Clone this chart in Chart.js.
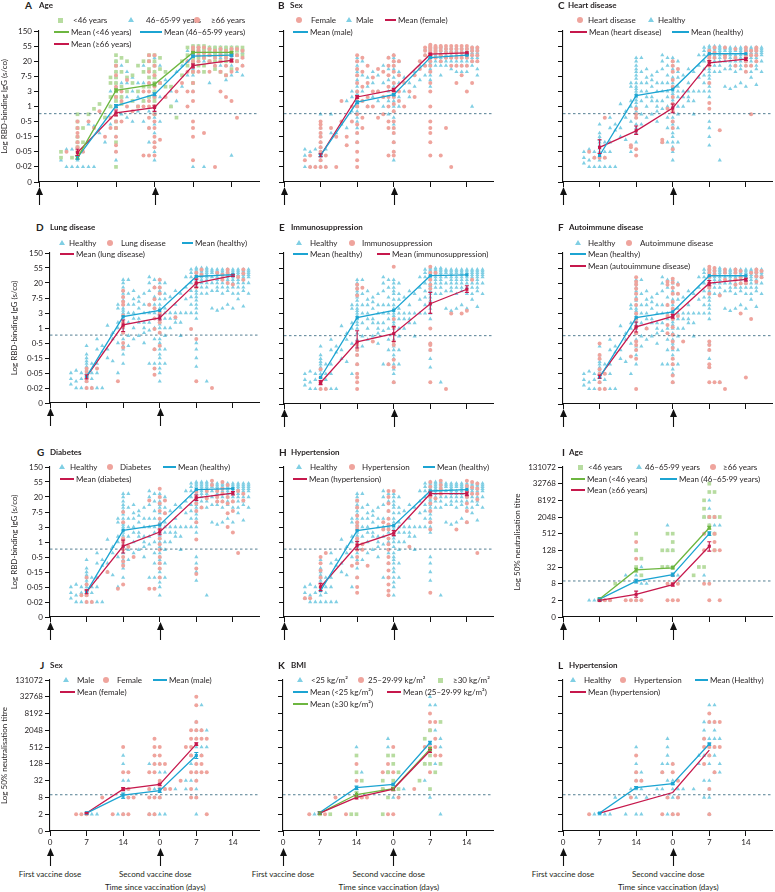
<!DOCTYPE html>
<html>
<head>
<meta charset="utf-8">
<title>Antibody response by subgroup</title>
<script src="https://cdn.jsdelivr.net/npm/chart.js@4.4.1/dist/chart.umd.min.js"></script>
<style>
  body { margin: 0; background: #fff; }
  #fig { position: relative; width: 775px; height: 892px; overflow: hidden;
         font-family: Lato, "Open Sans", sans-serif; color: #231f20; }
  .cv { position: absolute; }
  .txt { position: absolute; font-size: 8px; line-height: 10px; white-space: nowrap; }
  .letter { font-weight: 700; font-size: 10px; line-height: 12px; }
  .ttl { font-weight: 700; }
  .sym { position: absolute; }
</style>
</head>
<body>
<div id="fig"></div>
<script>
// y ladders (equally spaced ticks on the printed axis)
const iggTicks = [0, 0.02, 0.05, 0.15, 0.5, 1, 3, 7.5, 20, 55, 150];
const iggLabels = ['0', '0·02', '0·05', '0·15', '0·5', '1', '3', '7·5', '20', '55', '150'];
const neutTicks = [0, 2, 8, 32, 128, 512, 2048, 8192, 32768, 131072];
const neutLabels = ['0', '2', '8', '32', '128', '512', '2048', '8192', '32768', '131072'];
const dayTicks = [0, 7, 14, 21, 28, 35];
const dayLabels = ['0', '7', '14', '0', '7', '14'];
const doseDays = [0, 21];
const meanDays = [7, 14, 21, 28, 35];
const meanDaysNeut = [7, 14, 21, 28];
const iggCutoff = 0.72;
const neutCutoff = 10;

// scatter columns: [day, values...]
const ageYoung = [[4,0.05,0.035],[6,0.035],[7,0.7,0.5,0.3,0.15,0.1,0.07,0.05],[8,0.3,0.1],[9,0.7],[10,0.9],[11,1.2],[12,0.6],[13,7,5,2,1],[14,30,20,15,10,7,5,3,2,1.5,1,0.7,0.5,0.3,0.1,0.02],[15,25,10,4,2,1.2],[16,20,7,3],[17,8,5,1.5],[18,15,3,1],[19,20,10,4,1.5],[20,30,20,12,7,4,2],[21,30,20,15,10,7,5,3,2,1.5,1,0.7],[22,25,12,5],[23,10,4],[24,4,1],[25,0.6],[26,20,8],[27,50,30,15],[28,55,50,45,40,35,30,25,20,15,10,5],[29,55,45,35,25,15],[30,55,45,35,25,15,10],[31,50,40,30,20],[32,50,40,30,20,12],[33,50,40,30,20,10],[34,50,40,30,20,8],[35,50,40,30,20,12],[36,50,40,30,20],[37,50,40,30]];
const ageMid = [[4,0.03],[5,0.06,0.02],[6,0.06,0.02],[7,0.3,0.15,0.1,0.07,0.05,0.04,0.03,0.02],[8,0.05,0.02],[9,0.4,0.02],[10,0.35,0.02],[11,0.2],[12,0.6,0.1],[13,3,1,0.4],[14,20,15,10,7,5,4,3,2,1.5,1,0.7,0.5,0.3,0.15,0.05,0.03],[15,15,5,2,0.7],[16,10,5,2,0.6],[17,7,3,1.5,0.5],[18,5,2,0.8],[19,15,5,1.5,0.5],[20,20,10,5,2,0.8,0.3,0.1],[21,25,20,15,10,7,5,3,2,1.5,1,0.8,0.6,0.4,0.2,0.1,0.05,0.03],[22,15,5,2,0.5],[23,6,2],[24,3,1],[25,10,1.5],[26,15,4],[27,40,20,8],[28,55,45,40,35,30,25,20,15,12,8,5,3,0.02],[29,55,45,40,30,20,10],[30,55,45,40,30,20,0.02],[31,50,40,30,20,5],[32,50,45,35,25,15],[33,50,45,35,25,15],[34,50,45,35,25,15,6],[35,50,45,35,25,15,8,0.04],[36,50,40,30,20,10],[37,45,35,25,15,8]];
const ageOld = [[5,0.05],[7,0.5,0.3,0.2,0.15,0.1,0.07,0.05,0.04],[8,0.05],[9,0.5],[10,0.3],[11,0.8],[12,0.15],[13,0.6,0.3],[14,15,8,4,2,1,0.7,0.5,0.3,0.15,0.08,0.05],[15,3,1.5,0.5],[16,6,1],[17,0.8],[18,1],[19,3,1,0.04],[20,30,20,10,5,3,1.5,1,0.6,0.3,0.04],[21,30,15,8,4,2,1,0.7,0.5,0.3,0.15,0.1,0.07,0.04],[22,5,0.12],[23,2],[25,3],[26,5],[27,20,10,3,1],[28,50,40,30,20,15,10,5,3,1.5,0.5,0.3,0.15,0.03],[29,50,40,30,20,10],[30,50,35,25,0.2],[31,45,30,20,10],[32,40,25,15,0.02],[33,45,30,20,10,3],[34,40,25,15,8,2],[35,45,30,20,10,1.5],[36,45,30,20,12,0.6],[37,40,25,15]];
const sexFemale = [[4,0.03],[5,0.04,0.02],[6,0.02],[7,0.5,0.4,0.3,0.2,0.15,0.1,0.07,0.05,0.03,0.02],[8,0.04,0.02],[9,0.3],[10,0.15,0.02],[11,1.5,0.5],[12,0.15,0.08],[13,1,0.5],[14,30,20,12,8,5,3,2,1.5,1,0.7,0.4,0.2,0.1,0.05,0.03,0.02],[15,25,10,4,1.5,0.6,0.3],[16,15,5,2,1],[17,7,3,1],[18,12,3,0.6],[19,10,2,0.7],[20,25,15,8,4,2,1,0.5,0.3,0.04],[21,30,20,15,10,5,3,2,1.2,0.8,0.5,0.3,0.2,0.1,0.05,0.04],[22,20,8,3,1.5],[23,5,1],[24,3],[25,8,2],[26,20,12],[27,50,40,30,15],[28,60,55,50,45,40,35,30,25,20,15,10,5,3,1,0.5,0.3,0.2,0.1,0.04],[29,55,50,45,40,35,25],[30,55,50,40,30,20,0.04],[31,55,45,35,25,0.3],[32,55,45,35,25,15,0.02],[33,55,45,35,25,15,5],[34,55,45,35,25,15,8],[35,55,45,35,25,15,3],[36,50,40,30,20,5],[37,50,40,30,20]];
const sexMale = [[4,0.06,0.04,0.02],[5,0.05,0.02],[6,0.06,0.02],[7,0.7,0.3,0.2,0.15,0.1,0.07,0.05,0.04,0.03,0.02],[8,0.06,0.02],[9,0.7,0.2],[10,0.2],[11,0.4],[12,1.5,0.3],[13,3,2,0.8],[14,25,20,15,12,10,8,6,5,4,3,2.5,2,1.5,1.2,1,0.8,0.6,0.5,0.3,0.2,0.1],[15,20,8,3,1.5],[16,7,4,2,1],[17,10,5,2],[18,8,3,1.5],[19,15,5,2,1],[20,25,12,6,3,1.5,0.7],[21,30,25,20,15,12,10,7,5,4,3,2.5,2,1.5,1.2,1,0.8,0.6,0.4,0.3,0.2,0.1,0.05,0.03],[22,20,10,5,2,1],[23,7,3],[24,5,2],[25,10,4],[26,15,6],[27,45,30,15,8],[28,55,50,45,40,35,30,25,20,17,15,12,10,8,6,4],[29,55,50,45,40,35,30,25,20,15],[30,55,50,45,40,35,30,25,20,15,8],[31,50,45,40,35,30,25,20,15],[32,50,45,40,35,30,25,20,12],[33,50,45,40,35,30,25,20,15,10],[34,50,45,40,35,30,25,20,15,10],[35,50,45,40,35,30,25,20,15,10],[36,50,45,40,35,30,25,20,15,1],[37,50,45,40,35,30,25,20,12,8]];
const healthyIgG = [[4,0.05,0.035,0.025],[5,0.06,0.03,0.02],[6,0.05,0.035,0.02],[7,0.4,0.2,0.15,0.12,0.1,0.08,0.065,0.05,0.04,0.03,0.02],[8,0.1,0.05,0.035,0.02],[9,0.6,0.3,0.1,0.05,0.02],[10,0.4,0.25,0.02],[11,1.2,0.3,0.15],[12,0.8,0.6,0.12],[13,5,4,1.5,1,0.5,0.05],[14,25,20,15,12,10,8,6.5,5,4,3.5,3,2.5,2,1.6,1.3,1,0.8,0.6,0.4,0.3,0.2,0.1],[15,25,10,5,3,1.5,0.7,0.4],[16,12,7,5,3,2,1,0.6],[17,8,6,4,2,1.5,0.7],[18,10,5,3,1.5,1,0.8,0.5],[19,30,20,12,5,3,1.5,0.9,0.1],[20,25,15,8,5,3,2,1,0.6,0.3,0.1],[21,25,20,15,12,10,7,5,4,3,2.5,2,1.6,1.3,1,0.8,0.6,0.5,0.4,0.3,0.2,0.15,0.1,0.07,0.05,0.03],[22,20,10,7,4,3,2,1,0.7,0.3,0.1],[23,8,3,2,1],[24,12,5,3,2,1.5],[25,10,3,1.5,0.7],[26,30,15,7,3],[27,50,40,30,20,12,8,5,3],[28,55,50,45,40,35,30,25,20,17,15,12,10,8,6.5,5,4,3,2,0.5,0.3,0.15,0.08],[29,55,50,45,40,35,30,25,20,15,10],[30,55,50,45,40,35,30,25,20,15,10,0.03],[31,50,45,40,30,20,12,4],[32,50,45,40,35,30,25,20,15,12,3.5],[33,50,45,40,30,25,20,15,10,4],[34,50,45,40,35,30,25,20,15,12,5],[35,50,45,40,35,30,25,20,15,10,4],[36,50,45,40,35,30,25,20,15,10,7],[37,50,45,40,35,30,25,20,15,12,4.5],[38,50,45,40,35,30,20,10]];
const heartIgG = [[5,0.05],[6,0.035],[7,0.035],[8,0.6,0.035],[13,0.08,0.07],[14,0.9,0.7,0.6,0.06,0.04],[19,0.12,0.1],[20,0.9],[21,20,15,10,6,4,2,1.2,0.8,0.5,0.3,0.06],[22,12],[28,40,30,25,20,15,5,1.3,0.9],[29,50,35,25],[30,0.25],[31,50,30,25],[33,45,25,15],[35,50,40,30,25,20,15,10],[36,40,30,15,0.7],[37,50,45,40,30,20]];
const lungIgG = [[7,0.07,0.055,0.04,0.03,0.02],[8,0.02],[9,0.07],[13,0.03],[14,12,8,6,5,2.5,1.5,1.1,0.8,0.5,0.35],[19,5],[20,15,7,4,2,0.95,0.3,0.07,0.045],[21,25,15,10,3,1.5,0.8,0.4],[24,2.2],[27,0.95],[28,40,30,20,15,0.6,0.03],[29,50,35],[31,0.02],[32,40],[33,35,25],[34,50,40,20],[35,35,18],[36,30],[37,50,38,25]];
const immunoIgG = [[7,0.07,0.04,0.03,0.02],[8,0.02],[14,18,14,9,0.45,0.3,0.2,0.1,0.05,0.04,0.03,0.02],[15,15],[17,0.55],[20,0.1],[21,60,2,1.1,0.55,0.45,0.14,0.08,0.03],[28,60,40,25,18,14,1,0.5,0.45,0.3,0.03],[29,40],[31,0.02],[32,3],[34,3],[35,3.5],[36,25]];
const autoIgG = [[7,0.5,0.2,0.15,0.07,0.05,0.03,0.02],[8,0.05,0.02],[13,0.18],[14,30,22,18,14,10,7,5,3,2,1.1,0.8,0.55,0.45,0.3,0.15,0.02],[16,1],[20,22,18,5,2.5,1.3,0.8],[21,27,21,15,10,6,4,2,1.1,0.75,0.55,0.35,0.15,0.1,0.045,0.03],[22,18,10,2.5],[23,0.55],[28,60,50,40,30,20,15,10,0.55,0.45,0.3,0.1,0.08,0.03],[29,55,45,35,0.03],[30,9,0.03],[31,50,40,25,0.02],[33,50,40,25,18],[34,45,30,20,3],[35,20,0.04],[36,40,2],[37,50,42,32,22],[38,45,30]];
const diabIgG = [[6,0.03],[7,0.1,0.06,0.04,0.03,0.02],[8,0.02],[11,0.15],[13,0.045],[14,7.5,4,1.3,1,0.7,0.5,0.35,0.25,0.06],[15,0.8],[16,0.5],[19,16,0.045],[20,0.045],[21,35,20,13,8,5,3.5,2.5,1.3,0.9,0.7,0.5,0.3,0.2,0.1],[22,16,7],[28,28,20,13,8,4,1.2,0.2,0.13],[29,10],[30,30,18],[31,60,45],[32,30,20,15],[33,55,35,25,15],[34,45,20,13,7,3],[35,15,8,2],[36,30,0.6],[37,25,16]];
const hyperIgG = [[4,0.025],[5,0.025],[7,0.5,0.3,0.17,0.1,0.06,0.05],[8,0.6],[13,0.25],[14,16,10,6,4,3.2,2.5,1.3,0.9,0.7,0.5,0.3,0.1,0.05,0.035],[15,0.9,0.7],[16,0.25],[19,4,2.5],[20,30,20,13,8,5,3.5,2.5,1.3,0.9,0.7,0.5,0.3,0.17,0.1,0.06,0.04,0.03],[21,30],[24,0.8],[28,55,40,30,20,13,8,4,2.5,0.035],[29,18],[30,60,45,35,25],[33,2.5],[35,60,42,30,20,13,8,4],[36,55,38,25],[37,50,35,25,17,0.6]];

const neutYoung = [[7,2],[10,8],[14,512,128,32],[15,64,16],[19,128,32],[20,512,128,32],[21,512,256,128,32],[25,16],[26,32],[27,8192,4096,2048,32],[28,32768,16384,2048,1024,512],[29,16384,2048,512,128],[30,2048]];
const neutMid = [[5,2],[6,2],[7,2],[8,2],[9,2],[12,16],[14,128,16,2],[15,32,8],[16,8],[20,1024,128,32],[21,128,32,16],[22,16],[27,2048,512,16],[28,8192,4096,2048,1024],[29,2048,1024,512],[30,1024]];
const neutOld = [[7,2],[8,2],[9,2],[12,2],[13,2],[14,256,64,2],[15,2],[20,8,2],[21,16,8,2],[22,8,2],[27,512,128,8],[28,2048,8,2],[29,2048,512,256,128],[30,128,2]];
const neutMale = [[7,2],[8,2],[9,2],[13,2],[14,256,128,32,8,2],[15,16,32],[19,16,2,128],[20,128,16,2],[21,128,64,8,2],[22,64,16,2],[24,16],[26,32,16],[27,256,128,32],[28,4096,2048,1024,512,128,64,32,16,8,2],[29,16384,2048,512,256],[30,2048,512]];
const neutFemale = [[5,2],[6,2],[7,2],[10,8],[12,2],[14,512,64,16,2],[15,64,16,8,2],[16,8],[19,64,16,8,2],[20,1024,512,256,128,64,8,2],[21,512,256,128,32,16,8],[22,128,16],[23,16],[25,32],[26,512],[27,2048,1024,512,256,64,16,8],[28,32768,16384,4096,2048,1024,128,64,32,8],[29,2048,1024,256,128,64],[30,1024,64,2]];
const bmiLow = [[6,2],[7,2],[14,512,16],[15,64,8],[20,1024,512],[21,8],[23,16],[27,128,32],[28,32768,16384,8],[29,16384,2048,128],[30,1024,512,2]];
const bmiMid = [[5,2],[7,2],[8,2],[10,8],[12,2],[14,128,32,8],[15,8],[16,8],[19,64,16],[20,128,64,2],[21,512,64,2],[22,8],[25,16],[27,512],[28,8192,4096,2048,512,64],[29,4096,1024,512,256],[30,256]];
const bmiHigh = [[7,2],[9,2],[13,2],[14,256,64,2],[15,32],[19,32,16,2],[20,256,64,8],[21,256,128,32,16],[22,64,16],[26,32],[27,1024,128],[28,2048,256,128,16],[29,64],[30,4096,128]];
const neutHealthy = [[6,2],[7,2],[8,2],[9,2],[10,8],[12,2],[13,16],[14,512,128,64,32,16,8,2],[15,64,32,16,2],[16,8],[18,16],[19,128,64,16],[20,1024,512,256,128,32,8,2],[21,128,32,16,8,2],[22,32,16,8],[23,16],[25,16],[26,256,128],[27,4096,2048,1024,256,32,8],[28,16384,4096,1024,512,256,128,32,16,8,2],[29,16384,4096,2048,1024,512,256,64],[30,1024,128,64]];
const neutHyper = [[5,2],[13,8],[14,256,64,32],[15,32],[19,64,2],[20,8],[21,128,64,2],[22,32,8,2],[27,1024,512,128],[28,8192,4096,512,256,16,2],[29,4096,512,64],[30,4096,512]];

// group means and 95% CI bars
const meanAgeYoung = [0.035, 3.2, 4.6, 36, 36];
const errAgeYoung = [[0.032,0.039],[2.9,3.5],[4.2,5],[34,38],[34,38]];
const meanAgeMid = [0.035, 1.05, 2.4, 28, 30];
const errAgeMid = [[0.032,0.039],[0.95,1.15],[2.2,2.7],[26,30],[28,32]];
const meanAgeOld = [0.048, 0.75, 0.95, 15, 21];
const errAgeOld = [[0.04,0.06],[0.65,0.85],[0.8,1.1],[13,17],[19,23]];
const meanFemale = [0.04, 2.0, 3.3, 32, 35];
const errFemale = [[0.037,0.044],[1.8,2.2],[3,3.6],[30,34],[33,37]];
const meanMale = [0.04, 1.37, 2.35, 25.5, 30];
const errMale = [[0.037,0.044],[1.25,1.5],[2.2,2.55],[24,27],[29,31]];
const meanHeart = [0.069, 0.24, 0.93, 18, 23];
const errHeart = [[0.045,0.12],[0.18,0.35],[0.75,1.2],[15,21],[21,25]];
const meanHealthyC = [0.04, 2.2, 3.4, 33, 33];
const meanHealthyD = [0.04, 2.3, 3.5, 31, 35];
const meanLung = [0.04, 1.25, 2.1, 20, 33];
const errLung = [[0.035,0.045],[0.85,1.8],[1.8,2.6],[15,26],[31,35]];
const meanHealthyE = [0.04, 2.2, 3.6, 33, 35];
const meanImmuno = [0.029, 0.54, 0.79, 5.4, 13.5];
const errImmuno = [[0.026,0.033],[0.35,0.9],[0.55,1.15],[3,11],[11,17]];
const meanHealthyF = [0.04, 2.2, 3.3, 33, 33];
const meanAuto = [0.042, 1.13, 2.4, 20, 26];
const errAuto = [[0.038,0.046],[0.85,1.6],[2.1,2.8],[17,24],[23,28]];
const meanHealthyG = [0.037, 2.35, 3.4, 33, 35];
const meanDiab = [0.037, 0.83, 2.08, 19, 26];
const errDiab = [[0.033,0.042],[0.6,1.15],[1.7,2.6],[16,23],[23,29]];
const meanHealthyH = [0.04, 2.3, 3.3, 30, 33];
const meanHyper = [0.05, 0.86, 1.9, 25, 25];
const errHyper = [[0.04,0.065],[0.7,1.05],[1.6,2.3],[22,28],[22,28]];
const meanNeutYoung = [2.25, 25, 30, 840];
const errNeutYoung = [[2.1,2.4],[21,29],[27,33],[750,950]];
const meanNeutMid = [2.2, 9.9, 17, 512];
const errNeutMid = [[2,2.4],[8.5,11.5],[15,19.5],[440,600]];
const meanNeutOld = [2, 3.3, 7.4, 180];
const errNeutOld = [[1.9,2.1],[2.6,4.3],[6.5,8.5],[120,260]];
const meanNeutFemale = [2.2, 15.9, 23.6, 658];
const errNeutFemale = [[2.1,2.3],[14,18],[21,26],[590,730]];
const meanNeutMale = [2.2, 9.7, 14, 256];
const errNeutMale = [[2,2.4],[7.5,11.5],[12,17],[200,330]];
const meanBmiLow = [2.3, 17.9, 23.6, 735];
const errBmiLow = [[2.1,2.5],[15.5,20.5],[21,26],[650,830]];
const meanBmiMid = [2.2, 8, 16, 379];
const errBmiMid = [[2,2.4],[7,9],[14,18],[330,430]];
const meanBmiHigh = [2.2, 10.2, 16.5, 432];
const errBmiHigh = [[2,2.4],[8.5,12.5],[14.5,18.5],[380,490]];
const meanNeutHealthy = [2.2, 18, 25, 660];
const errNeutHealthy = [[2.1,2.3],[16.5,19.5],[23,27],[600,720]];
const meanNeutHyper = [2.2, null, 12, 400];

const pale = { g: '#b7dca0', b: '#80cfe4', r: '#efa49d' };
const dark = { g: '#6db640', b: '#1ca4d2', r: '#c6184c' };
const iggTitle = 'Log RBD-binding IgG (s/co)';
const neutTitle = 'Log 50% neutralisation titre';

const panels = [
  { key: 'A', name: 'Age', row: 0, left: 39, right: 262, top: 31, bottom: 182, kind: 'igg', yw: 39, yTitle: iggTitle, titlePad: 0,
    head: [25, 39, 5],
    groups: [[ageMid, 'tri', 'b'], [ageYoung, 'sq', 'g'], [ageOld, 'dot', 'r']],
    means: [[meanAgeYoung, errAgeYoung, 'g'], [meanAgeMid, errAgeMid, 'b'], [meanAgeOld, errAgeOld, 'r']],
    legend: [[20, [[60,'sq','g','<46 years',73],[131,'tri','b','46–65·99 years',146],[197,'dot','r','≥66 years',211]]],
             [32, [[54,'line','g','Mean (<46 years)',71],[140,'line','b','Mean (46–65·99 years)',164]]],
             [44, [[54,'line','r','Mean (≥66 years)',71]]]] },
  { key: 'B', name: 'Sex', row: 0, left: 284, right: 496, top: 31, bottom: 182, kind: 'igg', yw: 20,
    head: [278, 290, 5],
    groups: [[sexMale, 'tri', 'b'], [sexFemale, 'dot', 'r']],
    means: [[meanMale, errMale, 'b'], [meanFemale, errFemale, 'r']],
    legend: [[20, [[299,'dot','r','Female',311],[349,'tri','b','Male',356],[385,'line','r','Mean (female)',398]]],
             [32, [[293,'line','b','Mean (male)',310]]]] },
  { key: 'C', name: 'Heart disease', row: 0, left: 563, right: 775, top: 31, bottom: 182, kind: 'igg', yw: 50,
    head: [558, 568, 5],
    groups: [[healthyIgG, 'tri', 'b'], [heartIgG, 'dot', 'r']],
    means: [[meanHealthyC, null, 'b'], [meanHeart, errHeart, 'r']],
    legend: [[20, [[580,'dot','r','Heart disease',588],[651,'tri','b','Healthy',658]]],
             [32, [[570,'line','r','Mean (heart disease)',589],[672,'line','b','Mean (healthy)',691]]]] },
  { key: 'D', name: 'Lung disease', row: 1, left: 50, right: 262, top: 253, bottom: 403, kind: 'igg', yw: 50, yTitle: iggTitle, titlePad: 10,
    head: [36, 50, 227],
    groups: [[healthyIgG, 'tri', 'b'], [lungIgG, 'dot', 'r']],
    means: [[meanHealthyD, null, 'b'], [meanLung, errLung, 'r']],
    legend: [[243, [[62,'tri','b','Healthy',69],[110,'dot','r','Lung disease',121],[182,'line','b','Mean (healthy)',195]]],
             [254, [[60,'line','r','Mean (lung disease)',76]]]] },
  { key: 'E', name: 'Immunosuppression', row: 1, left: 284, right: 496, top: 253, bottom: 404, kind: 'igg', yw: 20,
    head: [279, 291, 227],
    groups: [[healthyIgG, 'tri', 'b'], [immunoIgG, 'dot', 'r']],
    means: [[meanHealthyE, null, 'b'], [meanImmuno, errImmuno, 'r']],
    legend: [[243, [[299,'tri','b','Healthy',310],[352,'dot','r','Immunosuppression',362]]],
             [254, [[293,'line','b','Mean (healthy)',310],[377,'line','r','Mean (immunosuppression)',392]]]] },
  { key: 'F', name: 'Autoimmune disease', row: 1, left: 563, right: 775, top: 253, bottom: 404, kind: 'igg', yw: 50,
    head: [558, 569, 227],
    groups: [[healthyIgG, 'tri', 'b'], [autoIgG, 'dot', 'r']],
    means: [[meanHealthyF, null, 'b'], [meanAuto, errAuto, 'r']],
    legend: [[243, [[578,'tri','b','Healthy',588],[629,'dot','r','Autoimmune disease',640]]],
             [254, [[570,'line','b','Mean (healthy)',588]]],
             [266, [[570,'line','r','Mean (autouimmune disease)',588]]]] },
  { key: 'G', name: 'Diabetes', row: 2, left: 50, right: 262, top: 467, bottom: 617, kind: 'igg', yw: 50, yTitle: iggTitle, titlePad: 10,
    head: [37, 50, 452],
    groups: [[healthyIgG, 'tri', 'b'], [diabIgG, 'dot', 'r']],
    means: [[meanHealthyG, null, 'b'], [meanDiab, errDiab, 'r']],
    legend: [[467, [[62,'tri','b','Healthy',70],[110,'dot','r','Diabetes',120],[163,'line','b','Mean (healthy)',178]]],
             [479, [[60,'line','r','Mean (diabetes)',76]]]] },
  { key: 'H', name: 'Hypertension', row: 2, left: 284, right: 496, top: 467, bottom: 617, kind: 'igg', yw: 20,
    head: [279, 291, 452],
    groups: [[healthyIgG, 'tri', 'b'], [hyperIgG, 'dot', 'r']],
    means: [[meanHealthyH, null, 'b'], [meanHyper, errHyper, 'r']],
    legend: [[467, [[299,'tri','b','Healthy',310],[352,'dot','r','Hypertension',362],[423,'line','b','Mean (healthy)',437]]],
             [479, [[293,'line','r','Mean (hypertension)',309]]]] },
  { key: 'I', name: 'Age', row: 2, left: 563, right: 775, top: 467, bottom: 617, kind: 'neut', yw: 50, yTitle: neutTitle, titlePad: 0,
    head: [562, 569, 452],
    groups: [[neutMid, 'tri', 'b'], [neutYoung, 'sq', 'g'], [neutOld, 'dot', 'r']],
    means: [[meanNeutYoung, errNeutYoung, 'g'], [meanNeutMid, errNeutMid, 'b'], [meanNeutOld, errNeutOld, 'r']],
    legend: [[467, [[580,'sq','g','<46 years',588],[639,'tri','b','46–65·99 years',645],[713,'dot','r','≥66 years',723]]],
             [479, [[571,'line','g','Mean (<46 years)',587],[660,'line','b','Mean (46–65·99 years)',679]]],
             [490, [[571,'line','r','Mean (≥66 years)',587]]]] },
  { key: 'J', name: 'Sex', row: 3, left: 50, right: 262, top: 680, bottom: 831, kind: 'neut', yw: 50, yTitle: neutTitle, titlePad: 0,
    head: [40, 50, 665],
    groups: [[neutMale, 'tri', 'b'], [neutFemale, 'dot', 'r']],
    means: [[meanNeutMale, errNeutMale, 'b'], [meanNeutFemale, errNeutFemale, 'r']],
    legend: [[680, [[66,'tri','b','Male',77],[106,'dot','r','Female',117],[153,'line','b','Mean (male)',169]]],
             [692, [[60,'line','r','Mean (female)',77]]]] },
  { key: 'K', name: 'BMI', row: 3, left: 283, right: 496, top: 680, bottom: 831, kind: 'neut', yw: 20,
    head: [278, 291, 665],
    groups: [[bmiLow, 'tri', 'b'], [bmiMid, 'dot', 'r'], [bmiHigh, 'sq', 'g']],
    means: [[meanBmiLow, errBmiLow, 'b'], [meanBmiMid, errBmiMid, 'r'], [meanBmiHigh, errBmiHigh, 'g']],
    legend: [[680, [[300,'tri','b','<25 kg/m²',311],[361,'dot','r','25–29·99 kg/m²',368],[440,'sq','g','≥30 kg/m²',453]]],
             [692, [[293,'line','b','Mean (<25 kg/m²)',310],[387,'line','r','Mean (25–29·99 kg/m²)',403]]],
             [704, [[293,'line','g','Mean (≥30 kg/m²)',310]]]] },
  { key: 'L', name: 'Hypertension', row: 3, left: 563, right: 775, top: 680, bottom: 831, kind: 'neut', yw: 50,
    head: [558, 569, 665],
    groups: [[neutHealthy, 'tri', 'b'], [neutHyper, 'dot', 'r']],
    means: [[meanNeutHealthy, errNeutHealthy, 'b'], [meanNeutHyper, null, 'r', true]],
    legend: [[680, [[573,'tri','b','Healthy',584],[623,'dot','r','Hypertension',634],[695,'line','b','Mean (Healthy)',710]]],
             [692, [[570,'line','r','Mean (hypertension)',588]]]] },
];

const fig = document.getElementById('fig');

function toPos(v, lad) {
  if (v == null) return null;
  if (v <= 0) return 0;
  for (let i = 0; i < lad.length - 1; i++) {
    const a = lad[i], b = lad[i + 1];
    if (v <= b || i === lad.length - 2) {
      if (a === 0) return i + v / b;
      return i + Math.log(v / a) / Math.log(b / a);
    }
  }
}

function addText(x, y, text, cls) {
  const d = document.createElement('div');
  d.className = 'txt' + (cls ? ' ' + cls : '');
  d.textContent = text;
  d.style.left = x + 'px';
  d.style.top = (y - (cls && cls.includes('letter') ? 6 : 5)) + 'px';
  fig.appendChild(d);
  return d;
}

function addSym(x, y, kind, c, endX) {
  const s = document.createElement('div');
  s.className = 'sym';
  if (kind === 'line') {
    Object.assign(s.style, { left: x + 'px', top: (y - 0.75) + 'px', width: (endX - x) + 'px', height: '1.5px', background: dark[c] });
  } else if (kind === 'sq') {
    Object.assign(s.style, { left: (x - 2.5) + 'px', top: (y - 2.5) + 'px', width: '5px', height: '5px', background: pale[c] });
  } else if (kind === 'dot') {
    Object.assign(s.style, { left: (x - 3) + 'px', top: (y - 3) + 'px', width: '6px', height: '6px', borderRadius: '50%', background: pale[c] });
  } else {
    Object.assign(s.style, { left: (x - 3) + 'px', top: (y - 3) + 'px', width: 0, height: 0,
      borderLeft: '3px solid transparent', borderRight: '3px solid transparent', borderBottom: '5.5px solid ' + pale[c] });
  }
  fig.appendChild(s);
}

const errorBars = {
  id: 'errorBars',
  afterDatasetsDraw(chart) {
    const { ctx } = chart;
    const xs = chart.scales.x, ys = chart.scales.y;
    chart.data.datasets.forEach((ds) => {
      if (!ds.errors) return;
      ctx.save();
      ctx.strokeStyle = ds.borderColor;
      ctx.lineWidth = 1.1;
      ds.errors.forEach((e, i) => {
        if (!e) return;
        const x = xs.getPixelForValue(ds.data[i].x);
        const y1 = ys.getPixelForValue(toPos(e[0], ds.ladder));
        const y2 = ys.getPixelForValue(toPos(e[1], ds.ladder));
        ctx.beginPath();
        ctx.moveTo(x, y1); ctx.lineTo(x, y2);
        ctx.moveTo(x - 2, y1); ctx.lineTo(x + 2, y1);
        ctx.moveTo(x - 2, y2); ctx.lineTo(x + 2, y2);
        ctx.stroke();
      });
      ctx.restore();
    });
  }
};

const doseArrows = {
  id: 'doseArrows',
  afterDraw(chart, args, opts) {
    const { ctx } = chart;
    const xs = chart.scales.x;
    const y0 = chart.chartArea.bottom + opts.gap;
    ctx.save();
    ctx.fillStyle = '#111';
    ctx.strokeStyle = '#111';
    ctx.lineWidth = 1.1;
    doseDays.forEach((d) => {
      const x = Math.round(xs.getPixelForValue(d)) + 0.5;
      ctx.beginPath();
      ctx.moveTo(x, y0); ctx.lineTo(x - 3.5, y0 + 8); ctx.lineTo(x + 3.5, y0 + 8);
      ctx.closePath(); ctx.fill();
      ctx.beginPath();
      ctx.moveTo(x, y0 + 7); ctx.lineTo(x, y0 + 18);
      ctx.stroke();
    });
    ctx.restore();
  }
};

Chart.defaults.font.family = 'Lato, "Open Sans", sans-serif';
Chart.defaults.font.size = 8;
Chart.defaults.color = '#231f20';

const markerSize = { tri: 2.4, sq: 2.6, dot: 2.0 };
const markerStyle = { tri: 'triangle', sq: 'rect', dot: 'circle' };

function buildPanel(p) {
  const lad = p.kind === 'igg' ? iggTicks : neutTicks;
  const labels = p.kind === 'igg' ? iggLabels : neutLabels;
  const nTop = lad.length - 1;
  const days = p.kind === 'igg' ? meanDays : meanDaysNeut;
  const last = p.row === 3;
  const padTop = 8, padRight = 1;
  const xh = last ? 38 : 28;
  const W = p.yw + (p.right - p.left) + padRight;
  const H = padTop + (p.bottom - p.top) + xh;

  const box = document.createElement('div');
  box.className = 'cv';
  Object.assign(box.style, { left: (p.left - p.yw) + 'px', top: (p.top - padTop) + 'px', width: W + 'px', height: H + 'px' });
  const cv = document.createElement('canvas');
  cv.width = W; cv.height = H;
  box.appendChild(cv);
  fig.appendChild(box);

  const datasets = [];
  p.means.forEach(([vals, errs, c, noMarker]) => {
    datasets.push({
      data: vals.map((v, i) => ({ x: days[i], y: toPos(v, lad) })),
      showLine: true, spanGaps: true, borderColor: dark[c], borderWidth: 1.3,
      pointStyle: 'rect', pointRadius: noMarker ? 0 : 2.2, pointBackgroundColor: dark[c], pointBorderWidth: 0,
      errors: errs, ladder: lad, order: 0,
    });
  });
  const cut = toPos(p.kind === 'igg' ? iggCutoff : neutCutoff, lad);
  datasets.push({
    data: [{ x: 0, y: cut }, { x: 40, y: cut }], showLine: true, borderColor: '#3f6f86',
    borderWidth: 0.9, borderDash: [2.5, 2.5], pointRadius: 0, order: 1,
  });
  p.groups.forEach(([cols, shape, c], k) => {
    const pts = [];
    cols.forEach(([day, ...vals]) => vals.forEach((v) => pts.push({ x: day, y: toPos(v, lad) })));
    datasets.push({
      data: pts, pointStyle: markerStyle[shape], pointRadius: markerSize[shape],
      pointBackgroundColor: pale[c], pointBorderWidth: 0, order: 10 - k,
    });
  });

  new Chart(cv, {
    type: 'scatter',
    data: { datasets },
    options: {
      responsive: false, animation: false, events: [],
      layout: { padding: { top: padTop, right: padRight, left: 0, bottom: 0 } },
      plugins: { legend: { display: false }, tooltip: { enabled: false }, doseArrows: { gap: last ? 17 : 5 } },
      scales: {
        x: {
          type: 'linear', min: 0, max: 40,
          afterBuildTicks: (s) => { s.ticks = dayTicks.map((v) => ({ value: v })); },
          afterFit: (s) => { s.height = xh; },
          ticks: { autoSkip: false, maxRotation: 0, padding: 2, callback: (v, i) => (last ? dayLabels[i] : '') },
          grid: { drawOnChartArea: false, tickLength: 5, color: '#111', lineWidth: 1 },
          border: { color: '#111', width: 1.1 },
        },
        y: {
          type: 'linear', min: 0, max: nTop,
          afterBuildTicks: (s) => { s.ticks = labels.map((l, i) => ({ value: i })); },
          afterFit: (s) => { s.width = p.yw; },
          ticks: { autoSkip: false, padding: 2, callback: (v, i) => (p.yTitle ? labels[i] : '') },
          grid: { drawOnChartArea: false, tickLength: 5, color: '#111', lineWidth: 1 },
          border: { color: '#111', width: 1.1 },
          title: { display: !!p.yTitle, text: p.yTitle || '', font: { size: 8 }, padding: { top: p.titlePad || 0, bottom: 0 } },
        },
      },
    },
    plugins: [errorBars, doseArrows],
  });

  // heading and legend as page text
  addText(p.head[0], p.head[2], p.key, 'letter');
  addText(p.head[1], p.head[2], p.name, 'ttl');
  p.legend.forEach(([y, items]) => {
    items.forEach(([sx, kind, c, text, tx]) => {
      addSym(sx, y, kind, c, tx - 2);
      addText(tx, y, text);
    });
  });

  if (last) {
    const perDay = (p.right - p.left) / 40;
    const x0 = p.left, x21 = p.left + 21 * perDay - 6;
    const center = (x, y, t) => { const d = addText(x, y, t); d.style.transform = 'translateX(-50%)'; };
    center(x0, 874, 'First vaccine dose');
    center(x21, 874, 'Second vaccine dose');
    center(x21, 887, 'Time since vaccination (days)');
  }
}

panels.forEach(buildPanel);
</script>
</body>
</html>
